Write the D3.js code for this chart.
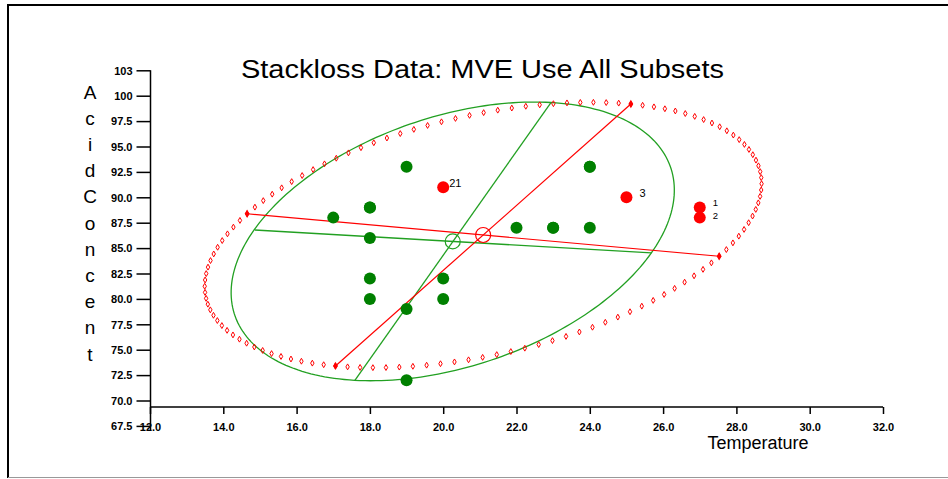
<!DOCTYPE html>
<html><head><meta charset="utf-8">
<script src="https://cdn.jsdelivr.net/npm/d3@7"></script>
<style>body{margin:0;background:#fff}svg{display:block}text{font-family:"Liberation Sans",Arial,sans-serif}</style>
</head><body>
<script>
// ---- data (Stackloss: water temperature vs acid concentration) ----
const obsId = d3.range(1, 22);
const temperature = [27,27,25,24,22,23,24,24,23,18,18,17,18,19,18,18,19,19,20,20,20];
const acidConc = [89,88,90,87,87,87,93,93,87,80,89,88,82,93,89,86,72,79,80,82,91];
const outlierObs = [1,2,3,21];
// classical (red) ellipse: centre and the two axis end-point pairs
const classicalCenter = [21.09, 86.29];
const classicalAxis1 = [[14.65, 88.38], [27.53, 84.20]];
const classicalAxis2 = [[17.06, 73.40], [25.12, 99.18]];
// MVE (green) ellipse
const mveCenter = [20.26, 85.66];
const mveAxis1 = [[14.86, 86.78], [25.68, 84.53]];
const mveAxis2 = [[17.59, 71.97], [22.94, 99.33]];
// axes
const xTicks = [12,14,16,18,20,22,24,26,28,30,32];
const xTickLabels = ["12.0","14.0","16.0","18.0","20.0","22.0","24.0","26.0","28.0","30.0","32.0"];
const yTicks = [67.5,70,72.5,75,77.5,80,82.5,85,87.5,90,92.5,95,97.5,100,102.5];
const yTickLabels = ["67.5","70.0","72.5","75.0","77.5","80.0","82.5","85.0","87.5","90.0","92.5","95.0","97.5","100","103"];
const titleText = "Stackloss Data: MVE Use All Subsets";
const xTitle = "Temperature";
const yTitle = "AcidConcent";

const W = 948, H = 479;
const svg = d3.select("body").append("svg").attr("width", W).attr("height", H);

// frame
svg.append("line").attr("x1",8).attr("x2",W).attr("y1",5).attr("y2",5).attr("stroke","#000").attr("stroke-width",2);
svg.append("line").attr("x1",8).attr("x2",8).attr("y1",4).attr("y2",478).attr("stroke","#000").attr("stroke-width",2);
svg.append("line").attr("x1",8).attr("x2",W).attr("y1",477.5).attr("y2",477.5).attr("stroke","#999").attr("stroke-width",1);

const x = d3.scaleLinear().domain([12, 32]).range([150, 883]);
const y = d3.scaleLinear().domain([67.5, 102.5]).range([425.9, 70.3]);
const xAxisY = 407;

// title
svg.append("text").attr("x", 241).attr("y", 78)
  .attr("font-size", 26).attr("textLength", 483).attr("lengthAdjust","spacingAndGlyphs").text(titleText);

// y axis
const yAxis = d3.axisLeft(y).tickValues(yTicks).tickSize(14).tickPadding(4)
  .tickFormat((d,i) => yTickLabels[i]);
const gy = svg.append("g").attr("transform", `translate(${x(12)+0.5},0)`).call(yAxis);
gy.select(".domain").attr("d", `M0,${y(102.5)}V${y(67.5)+4}`).attr("stroke","#000").attr("stroke-width",1.5);
gy.selectAll(".tick line").attr("stroke","#000").attr("stroke-width",1.5);
gy.selectAll(".tick text").attr("font-size", 11).attr("font-family","Liberation Sans, Arial, sans-serif").attr("fill","#000").attr("font-weight","bold").attr("dy","0.35em");

// x axis
const xAxis = d3.axisBottom(x).tickValues(xTicks).tickSize(7).tickPadding(9)
  .tickFormat((d,i) => xTickLabels[i]);
const gx = svg.append("g").attr("transform", `translate(0,${xAxisY})`).call(xAxis);
gx.select(".domain").attr("d", `M${x(12)},0H${x(32)}`).attr("stroke","#000").attr("stroke-width",1.5);
gx.selectAll(".tick line").attr("stroke","#000").attr("stroke-width",1.5);
gx.selectAll(".tick text").attr("font-size", 11).attr("font-family","Liberation Sans, Arial, sans-serif").attr("fill","#000").attr("font-weight","bold");

// axis titles
svg.append("text").attr("x", 758).attr("y", 449).attr("text-anchor","middle").attr("font-size", 18).text(xTitle);
const yLetters = yTitle.split("");
svg.append("g").selectAll("text").data(yLetters).join("text")
  .attr("x", 90).attr("y", (d,i) => 92 + i*26.2).attr("dy","0.35em")
  .attr("text-anchor","middle").attr("font-size", 19).text(d => d);

// ellipse helpers
function ellipsePts(center, axis1, axis2, n) {
  const u = [axis1[1][0]-center[0], axis1[1][1]-center[1]];
  const v = [axis2[1][0]-center[0], axis2[1][1]-center[1]];
  return d3.range(n).map(k => {
    const t = 2*Math.PI*k/n;
    return [center[0] + u[0]*Math.cos(t) + v[0]*Math.sin(t), center[1] + u[1]*Math.cos(t) + v[1]*Math.sin(t)];
  });
}
const line = d3.line().x(d => x(d[0])).y(d => y(d[1]));

const green = "#22a022", red = "#ff0000";

// MVE (green) ellipse
svg.append("path").attr("d", line(ellipsePts(mveCenter, mveAxis1, mveAxis2, 240)) + "Z")
  .attr("fill","none").attr("stroke", green).attr("stroke-width", 1.3);
[mveAxis1, mveAxis2].forEach(a => svg.append("path").attr("d", line(a))
  .attr("fill","none").attr("stroke", green).attr("stroke-width", 1.3));
svg.append("circle").attr("cx", x(mveCenter[0])).attr("cy", y(mveCenter[1])).attr("r", 7.5)
  .attr("fill","none").attr("stroke", green).attr("stroke-width", 1.2);

// classical (red) ellipse: dotted markers
const diamond = d3.symbol().type(d3.symbolDiamond).size(10);
svg.append("g").selectAll("path").data(ellipsePts(classicalCenter, classicalAxis1, classicalAxis2, 124)).join("path")
  .attr("d", diamond).attr("transform", d => `translate(${x(d[0])},${y(d[1])})`)
  .attr("fill","none").attr("stroke", red).attr("stroke-width", 1);
[classicalAxis1, classicalAxis2].forEach(a => svg.append("path").attr("d", line(a))
  .attr("fill","none").attr("stroke", red).attr("stroke-width", 1.2));
svg.append("g").selectAll("path").data([...classicalAxis1, ...classicalAxis2]).join("path")
  .attr("d", d3.symbol().type(d3.symbolDiamond).size(20))
  .attr("transform", d => `translate(${x(d[0])},${y(d[1])})`).attr("fill", red);
svg.append("circle").attr("cx", x(classicalCenter[0])).attr("cy", y(classicalCenter[1])).attr("r", 7.5)
  .attr("fill","none").attr("stroke", red).attr("stroke-width", 1.2);

// points
const pts = obsId.map((id, i) => ({id, t: temperature[i], a: acidConc[i], out: outlierObs.includes(id)}));
svg.append("g").selectAll("circle").data(pts).join("circle")
  .attr("cx", d => x(d.t)).attr("cy", d => y(d.a)).attr("r", 6)
  .attr("fill", d => d.out ? red : "#008000");

// outlier labels
const labelDx = {1: 13, 2: 13, 3: 13, 21: 6};
const labelDy = {1: -1.5, 2: 1.5, 3: 0, 21: 0};
svg.append("g").selectAll("text").data(pts.filter(d => d.out)).join("text")
  .attr("x", d => x(d.t) + labelDx[d.id]).attr("y", d => y(d.a) + labelDy[d.id]).attr("font-size", d => d.id <= 2 ? 9.5 : 11)
  .text(d => d.id);
</script>
</body></html>
